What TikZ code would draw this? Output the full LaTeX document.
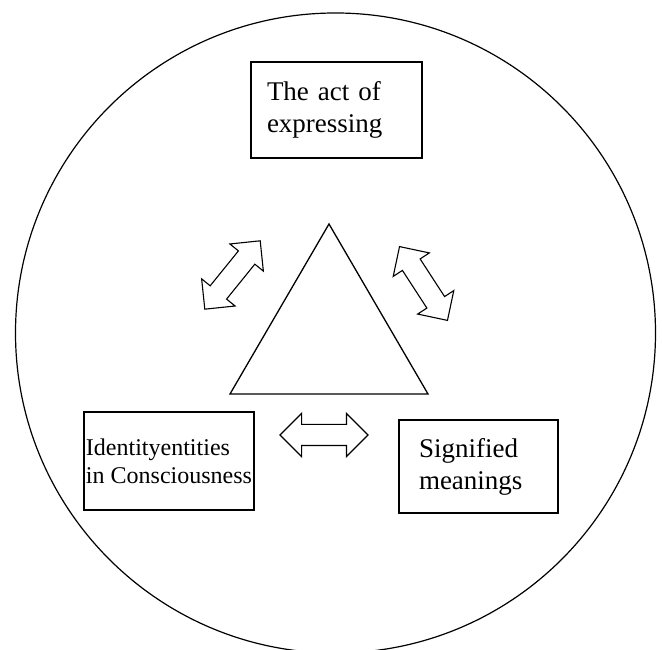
\documentclass[tikz,border=0pt]{standalone}
\usepackage{fontspec}
\setmainfont{Liberation Serif}
\usetikzlibrary{shapes.arrows}

\begin{document}
\begin{tikzpicture}[x=1pt, y=1pt,
squarednode/.style={rectangle, align=left, draw=black, line width=1.3pt},
bigtext/.style={font=\fontsize{27}{32}\selectfont},
smalltext/.style={font=\fontsize{24}{28}\selectfont},
blockarrow/.style={double arrow, draw=black, line width=1.1pt, minimum height=88pt, inner xsep=0pt, inner ysep=10pt, double arrow head extend=11pt},
]
\useasboundingbox (0,0) rectangle (662,650);
%Circle
\draw[line width=1.2pt] (335.5,317) circle (320pt);

%Triangle
\coordinate (Apex) at (329,426);
\coordinate (Base Right) at (428,256);
\coordinate (Base Left) at (230,256);
\draw[line width=1.3pt] (Apex) -- (Base Right) -- (Base Left) -- cycle;

%Nodes
\node[squarednode, bigtext, text width=139pt, inner xsep=16pt, minimum height=96pt](Expressing) at (336.5,540) {The act of\\expressing};
\node[squarednode, smalltext, inner xsep=2pt, minimum width=170pt, minimum height=98pt](Identity) at (169,189) {Identityentities\\in Consciousness};
\node[squarednode, bigtext, text width=119pt, inner xsep=20pt, minimum height=93pt](Signified) at (478.5,183.5) {Signified\\meanings};

%Arrows
\node[blockarrow, rotate=51](Left Arrow) at (232.5,375) {};
\node[blockarrow, rotate=-57](Right Arrow) at (423.5,366.5) {};
\node[blockarrow](Bottom Arrow) at (324,215) {};

\end{tikzpicture}
\end{document}
